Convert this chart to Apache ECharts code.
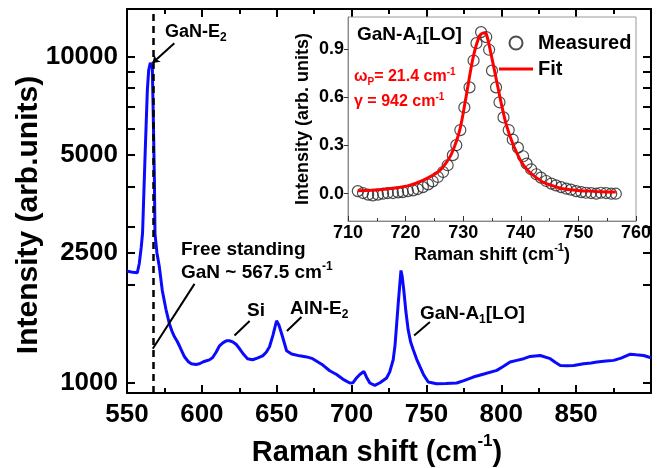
<!DOCTYPE html>
<html>
<head>
<meta charset="utf-8">
<script src="https://cdn.jsdelivr.net/npm/echarts@6/dist/echarts.min.js"></script>
<style>
  html, body { margin: 0; padding: 0; background: #fff; }
</style>
</head>
<body>
<div id="chart" style="width:662px;height:468px;"></div>
<script>
// main spectrum (Raman shift in cm-1, intensity in arb. units)
var ramanShift = [550, 552, 554, 556.9, 558.2, 559.5, 560.4, 562.2, 563.6, 564.5, 565.6, 566.9, 567.6, 568.3, 568.7,
  570, 571.6, 573.6, 576, 578.3, 580, 581.7, 583.5, 585, 587, 588.4, 591, 593, 596, 598.4, 601, 603.1, 605, 607.1,
  609.5, 611.8, 614, 616.4, 618.5, 620.5, 623, 625.2, 628, 630.5, 633.9, 637, 640.6, 643, 645.2, 647.5, 649.9,
  651.5, 653.3, 656.6, 660, 665.3, 670, 674, 680, 685.4, 690, 695, 698.8, 701, 703.3, 705.5, 708.2, 710, 712.2,
  715.5, 719, 723.4, 725.5, 727.8, 729, 730, 731.2, 732.2, 733, 733.8, 735, 736.3, 737.8, 739.5, 741.2, 743.5,
  745.6, 748, 751.2, 756.8, 763, 770.2, 775, 781.3, 789, 797, 801, 805.9, 810.4, 815, 819.3, 826, 832.7, 836,
  839.4, 844, 848.3, 855, 860, 864, 870, 875, 880, 886.2, 890, 895.1, 900];
var intensity = [2199, 2190, 2180, 2173, 2320, 2600, 2883, 5176, 7908, 9100, 9570, 9290, 6396, 4188, 2861,
  2500, 2267, 1914, 1680, 1517, 1440, 1383, 1340, 1298, 1240, 1201, 1160, 1143, 1138, 1143, 1160, 1168, 1175, 1193,
  1240, 1298, 1325, 1345, 1345, 1335, 1310, 1271, 1220, 1185, 1176, 1190, 1209, 1240, 1289, 1400, 1549,
  1500, 1413, 1253, 1225, 1209, 1200, 1185, 1140, 1088, 1060, 1020, 998, 1000, 1034, 1060, 1083, 1040, 998,
  981, 1000, 1034, 1080, 1176, 1300, 1488, 1760, 2000, 2210, 2120, 1900, 1650, 1453, 1330, 1262, 1180,
  1122, 1060, 1005, 993, 995, 998, 1015, 1041, 1065, 1091, 1120, 1157, 1171, 1185, 1204, 1212, 1185, 1155,
  1130, 1128, 1130, 1144, 1150, 1157, 1165, 1171, 1190, 1223, 1218, 1212, 1193];

// inset: GaN-A1[LO] measured points and fit
var insetShift = [711.7, 712.6, 713.5, 714.3, 715.2, 716.1, 716.9, 717.8, 718.7, 719.5, 720.4, 721.3, 722.1, 723.0,
  723.9, 724.7, 725.6, 726.5, 727.3, 728.2, 728.8, 729.5, 730.2, 731.1, 731.8, 732.3, 733.1, 734.0, 734.5, 735.0,
  735.7, 736.3, 737.0, 737.9, 738.6, 739.5, 740.4, 741.0, 741.8, 742.7, 743.5, 744.4, 745.3, 746.1, 747.0, 747.9,
  748.7, 749.6, 750.5, 751.3, 752.2, 753.1, 753.9, 754.8, 755.7, 756.5];
var insetMeasured = [0.016, 0.004, -0.006, -0.011, -0.006, 0.0, 0.004, 0.004, 0.008, 0.01, 0.016, 0.021, 0.029, 0.041,
  0.058, 0.077, 0.104, 0.135, 0.177, 0.24, 0.302, 0.396, 0.537, 0.662, 0.829, 0.937, 1.006, 0.975, 0.896, 0.766,
  0.662, 0.569, 0.475, 0.396, 0.337, 0.287, 0.233, 0.187, 0.152, 0.121, 0.1, 0.079, 0.063, 0.052, 0.041, 0.031,
  0.025, 0.016, 0.01, 0.006, 0.004, 0.0, 0.006, 0.004, 0.0, 0.0];
var fitShift = [711.7, 714, 716, 718.4, 720.5, 723, 725, 726, 727, 728, 729.4, 730.5, 731.7, 732.8, 733.5, 734.0,
  734.8, 735.7, 736.6, 737.5, 738.6, 740.1, 741.5, 743.8, 745.5, 747.3, 749.5, 751.9, 754, 756.5];
var fitValue = [0.018, 0.022, 0.026, 0.037, 0.05, 0.083, 0.12, 0.146, 0.19, 0.25, 0.396, 0.604, 0.844, 0.979, 1.0, 0.995,
  0.875, 0.719, 0.563, 0.427, 0.3125, 0.198, 0.135, 0.073, 0.05, 0.031, 0.022, 0.016, 0.012, 0.01];

// ticks
var mainTickValues = [1000, 2000, 2500, 3000, 4000, 5000, 6000, 7000, 8000, 9000, 10000];
var mainLabelValues = [1000, 2500, 5000, 10000];
var insetLabelValues = [0, 0.3, 0.6, 0.9];

var FONT = "'Liberation Sans', Arial, sans-serif";

function zip(xs, ys) {
  var out = [];
  for (var i = 0; i < xs.length; i++) out.push([xs[i], ys[i]]);
  return out;
}

var myChart = echarts.init(document.getElementById('chart'));

var supStyle = function (size, raise, color) {
  return { fontSize: size, fontWeight: 'bold', fontFamily: FONT, color: color, padding: [0, 0, raise, 0] };
};
var subStyle = function (size, drop, color) {
  return { fontSize: size, fontWeight: 'bold', fontFamily: FONT, color: color, padding: [drop, 0, 0, 0] };
};
var baseStyle = function (size, color) {
  return { fontSize: size, fontWeight: 'bold', fontFamily: FONT, color: color };
};

function annot(x, y, text, size, color, rich) {
  return {
    type: 'text', x: x, y: y, z: 10,
    style: {
      text: text, fill: color || '#000', font: 'bold ' + size + 'px ' + FONT,
      verticalAlign: 'middle', align: 'left', rich: rich
    }
  };
}

var mainTickLine = { show: true, inside: true, length: 8, lineStyle: { color: '#000', width: 2 } };
var mainMinor = { show: true, splitNumber: 2, length: 5, lineStyle: { color: '#000', width: 2 } };

myChart.setOption({
  animation: false,
  backgroundColor: '#fff',
  grid: [
    { left: 127, top: 9, right: 11, bottom: 75, outerBoundsMode: 'none' },
    { left: 348, top: 17, width: 288, height: 204, outerBoundsMode: 'none' }
  ],
  legend: {
    data: [
      { name: 'Measured' },
      { name: 'Fit', icon: 'path://M0,0 L32,0 L32,3 L0,3 Z' }
    ],
    orient: 'vertical',
    left: 494, top: 28,
    itemWidth: 34, itemHeight: 13, itemGap: 6,
    z: 12,
    textStyle: { fontSize: 20, fontWeight: 'bold', fontFamily: FONT, color: '#000' }
  },
  xAxis: [
    {
      gridIndex: 0, type: 'value', min: 550, max: 900, interval: 50,
      axisLine: { lineStyle: { color: '#000', width: 2 } },
      axisTick: mainTickLine, minorTick: mainMinor,
      axisLabel: { color: '#000', fontSize: 26, fontWeight: 'bold', fontFamily: FONT, margin: 9, showMaxLabel: false },
      splitLine: { show: false },
      name: 'Raman shift (cm{sup|-1})', nameLocation: 'middle', nameGap: 39,
      nameTextStyle: {
        fontSize: 29, fontWeight: 'bold', fontFamily: FONT, color: '#000', padding: [0, 24, 0, 0],
        rich: { sup: supStyle(17, 24, '#000') }
      }
    },
    {
      gridIndex: 0, type: 'value', position: 'top', min: 550, max: 900, interval: 50,
      axisLine: { show: true, onZero: false, lineStyle: { color: '#000', width: 2 } },
      axisTick: mainTickLine, minorTick: mainMinor,
      axisLabel: { show: false }, splitLine: { show: false }
    },
    {
      gridIndex: 1, type: 'value', min: 710, max: 760, interval: 10, z: 8,
      axisLine: { onZero: false, lineStyle: { color: '#888', width: 1 } },
      axisTick: { inside: true, length: 5, lineStyle: { color: '#333', width: 1 } },
      minorTick: { show: true, splitNumber: 2, length: 3, lineStyle: { color: '#333', width: 1 } },
      axisLabel: { color: '#000', fontSize: 18, fontWeight: 'bold', fontFamily: FONT, margin: 3 },
      splitLine: { show: false },
      name: 'Raman shift (cm{sup|-1})', nameLocation: 'middle', nameGap: 20,
      nameTextStyle: {
        fontSize: 18, fontWeight: 'bold', fontFamily: FONT, color: '#000',
        rich: { sup: supStyle(11, 14, '#000') }
      }
    }
  ],
  yAxis: [
    {
      gridIndex: 0, type: 'log', logBase: 10, min: 930, max: 14000,
      axisLine: { show: true, lineStyle: { color: '#000', width: 2 } },
      axisTick: { show: true, inside: true, length: 8, customValues: mainTickValues, lineStyle: { color: '#000', width: 2 } },
      axisLabel: {
        color: '#000', fontSize: 26, fontWeight: 'bold', fontFamily: FONT, margin: 9,
        customValues: mainLabelValues,
        formatter: function (v) { return String(Math.round(v)); }
      },
      splitLine: { show: false },
      name: 'Intensity (arb.units)', nameLocation: 'middle', nameGap: 83, nameMoveOverlap: false,
      nameTextStyle: { fontSize: 30, fontWeight: 'bold', fontFamily: FONT, color: '#000', padding: [0, 28, 0, 0] }
    },
    {
      gridIndex: 0, type: 'log', logBase: 10, min: 930, max: 14000, position: 'right',
      axisLine: { show: true, onZero: false, lineStyle: { color: '#000', width: 2 } },
      axisTick: { show: true, inside: true, length: 8, customValues: mainTickValues, lineStyle: { color: '#000', width: 2 } },
      axisLabel: { show: false }, splitLine: { show: false }
    },
    {
      gridIndex: 1, type: 'value', min: -0.17, max: 1.1, z: 8,
      axisLine: { show: true, onZero: false, lineStyle: { color: '#888', width: 1 } },
      axisTick: { show: true, length: 4, customValues: insetLabelValues, lineStyle: { color: '#333', width: 1 } },
      axisLabel: {
        color: '#000', fontSize: 18, fontWeight: 'bold', fontFamily: FONT, margin: 4,
        customValues: insetLabelValues,
        formatter: function (v) { return v.toFixed(1); }
      },
      splitLine: { show: false },
      name: 'Intensity (arb. units)', nameLocation: 'middle', nameGap: 36,
      nameTextStyle: { fontSize: 18, fontWeight: 'bold', fontFamily: FONT, color: '#000' }
    }
  ],
  graphic: [
    // white inset panel over the main spectrum
    {
      type: 'rect', z: 4,
      shape: { x: 348, y: 17, width: 288, height: 204 },
      style: { fill: '#fff', stroke: '#999', lineWidth: 1 }
    },
    annot(165, 32, '{a|GaN-E}{b|2}', 18, '#000', { a: baseStyle(18, '#000'), b: subStyle(12, 12, '#000') }),
    annot(181, 250, 'Free standing', 19, '#000'),
    annot(181, 273, '{a|GaN ~ 567.5 cm}{b|-1}', 19, '#000', { a: baseStyle(19, '#000'), b: supStyle(12, 12, '#000') }),
    annot(247, 311, 'Si', 19, '#000'),
    annot(290, 309, '{a|AlN-E}{b|2}', 19, '#000', { a: baseStyle(19, '#000'), b: subStyle(12, 12, '#000') }),
    annot(420, 314, '{a|GaN-A}{b|1}{a|[LO]}', 19, '#000', { a: baseStyle(19, '#000'), b: subStyle(12, 12, '#000') }),
    annot(357, 35, '{a|GaN-A}{b|1}{a|[LO]}', 19, '#000', { a: baseStyle(19, '#000'), b: subStyle(12, 12, '#000') }),
    annot(354, 77, '{a|ω}{b|P}{a|= 21.4 cm}{c|-1}', 16, '#ff0000',
      { a: baseStyle(16, '#ff0000'), b: subStyle(10, 10, '#ff0000'), c: supStyle(10, 10, '#ff0000') }),
    annot(354, 102, '{a|γ = 942 cm}{c|-1}', 16, '#ff0000',
      { a: baseStyle(16, '#ff0000'), c: supStyle(10, 10, '#ff0000') })
  ],
  series: [
    {
      name: 'Spectrum', type: 'line', xAxisIndex: 0, yAxisIndex: 0, z: 2,
      data: zip(ramanShift, intensity),
      showSymbol: false, symbol: 'none',
      lineStyle: { color: '#0a0aff', width: 3 },
      markLine: {
        silent: true, symbol: ['none', 'none'], animation: false,
        label: { show: false },
        lineStyle: { color: '#000', width: 2, type: 'solid' },
        data: [
          { xAxis: 567.5, lineStyle: { type: [7, 5], width: 2.5 } },
          [{ coord: [567, 9560], symbol: 'arrow', symbolSize: 7 }, { coord: [581.6, 10990] }],
          [{ coord: [567.2, 1271] }, { coord: [595.1, 2010] }],
          [{ coord: [621.8, 1396] }, { coord: [631.9, 1546] }],
          [{ coord: [656.8, 1440] }, { coord: [666.5, 1590] }],
          [{ coord: [741.8, 1396] }, { coord: [752.3, 1535] }]
        ]
      }
    },
    {
      name: 'Measured', type: 'scatter', xAxisIndex: 2, yAxisIndex: 2, z: 6,
      data: zip(insetShift, insetMeasured),
      symbol: 'circle', symbolSize: 11,
      itemStyle: { color: 'rgba(255,255,255,0)', borderColor: '#222', borderWidth: 1.2 }
    },
    {
      name: 'Fit', type: 'line', xAxisIndex: 2, yAxisIndex: 2, z: 7,
      data: zip(fitShift, fitValue),
      showSymbol: false, symbol: 'none', smooth: 0.3,
      lineStyle: { color: '#ff0000', width: 3 },
      itemStyle: { color: '#ff0000' }
    }
  ]
});
</script>
</body>
</html>
